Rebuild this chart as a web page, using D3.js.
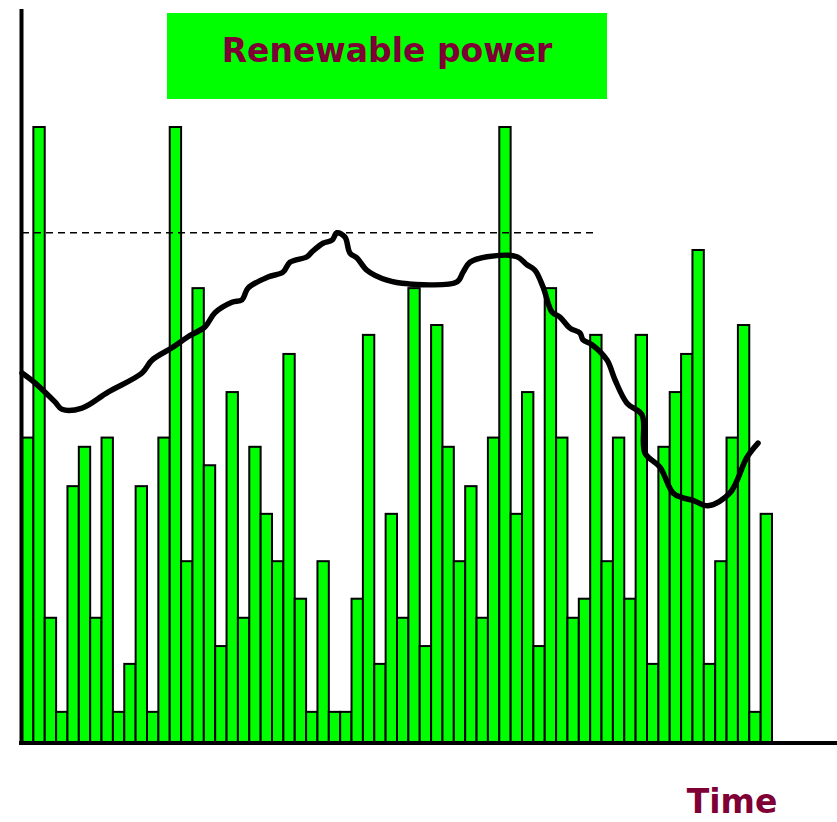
<!DOCTYPE html>
<html lang="en">
<head>
<meta charset="UTF-8">
<title>Renewable power</title>
<script src="https://d3js.org/d3.v7.min.js"></script>
<style>
  body { margin: 0; background: white; }
  svg text { font-family: "DejaVu Sans", Verdana, sans-serif; font-weight: bold; }
</style>
</head>
<body>
<div id="svg_area"></div>
<script>
// output of renewable power per time step (tallest bar = 100)
const barValues = [49.5, 100, 20.2, 4.9, 41.6, 48, 20.2, 49.5, 4.9, 12.7,
                   41.6, 4.9, 49.5, 100, 29.4, 73.8, 45, 15.6, 56.9, 20.2,
                   48, 37.1, 29.4, 63.1, 23.3, 4.9, 29.4, 4.9, 4.9, 23.3,
                   66.2, 12.7, 37.1, 20.2, 73.8, 15.6, 67.8, 48, 29.4, 41.6,
                   20.2, 49.5, 100, 37.1, 56.9, 15.6, 73.8, 49.5, 20.2, 23.3,
                   66.2, 29.4, 49.5, 23.3, 66.2, 12.7, 48, 56.9, 63.1, 80,
                   12.7, 29.4, 49.5, 67.8, 4.9, 37.1];

// demand curve, sampled at (time step, value)
const demandTime = [0, 1.14, 2.9, 3.52, 5.28, 7.57, 10.56, 11.44, 13.2, 14.61,
                    16.1, 16.98, 18.48, 19.36, 19.89, 21.65, 22.97, 23.58, 25.08, 25.52,
                    26.49, 27.28, 27.72, 28.42, 28.86, 29.48, 30.36, 32.12, 33.97, 38.28,
                    38.81, 39.42, 40.92, 43.56, 44.44, 45.14, 45.85, 46.64, 47.34, 48.22,
                    49.1, 49.37, 50.16, 51.48, 52.18, 53.24, 54.56, 54.82, 56.14, 57.29,
                    58.17, 59.05, 60.37, 62.3, 63.8, 64.77];
const demandValue = [60, 58.4, 55.3, 54.1, 54.3, 56.9, 60, 62.1, 64.1, 65.9,
                     67.5, 69.8, 71.5, 71.9, 73.8, 75.6, 76.4, 78, 78.9, 79.7,
                     81.1, 81.6, 82.8, 82.1, 79.5, 78.7, 76.7, 75.1, 74.5, 74.8,
                     76.4, 78, 78.9, 78.9, 77.6, 76.7, 74, 69.9, 69.1, 67.3,
                     66.5, 65.4, 64.6, 62.1, 58.9, 55.1, 53.2, 47, 44.7, 40.5,
                     39.7, 39.3, 38.4, 40.5, 46.3, 48.6];

const peakLevel = 82.8;
const peakEnd = 50.6;   // time step where the dashed line stops

const title = "Renewable power";
const xaxisname = "Time";

const width = 837, height = 822;
const baseY = 742;

var x = d3.scaleLinear().domain([0, barValues.length]).range([22, 772]);
var y = d3.scaleLinear().domain([0, 100]).range([baseY, 127]);

var svg = d3.select("#svg_area")
  .append("svg")
  .attr("width", width)
  .attr("height", height);

// bars
svg.append("g")
  .selectAll("rect")
  .data(barValues)
  .enter()
  .append("rect")
  .attr("x", (d, i) => x(i))
  .attr("y", d => y(d))
  .attr("width", x(1) - x(0))
  .attr("height", d => baseY - y(d))
  .attr("fill", "#00ff00")
  .attr("stroke", "black")
  .attr("stroke-width", 2);

// dashed peak line
svg.append("line")
  .attr("x1", x(0)).attr("x2", x(peakEnd))
  .attr("y1", y(peakLevel)).attr("y2", y(peakLevel))
  .attr("stroke", "black")
  .attr("stroke-width", 1.5)
  .attr("stroke-dasharray", "7,5");

// demand line
var line = d3.line()
  .x(d => x(d[0]))
  .y(d => y(d[1]))
  .curve(d3.curveCatmullRom);

svg.append("path")
  .datum(d3.zip(demandTime, demandValue))
  .attr("d", line)
  .attr("fill", "none")
  .attr("stroke", "black")
  .attr("stroke-width", 5.5)
  .attr("stroke-linejoin", "round")
  .attr("stroke-linecap", "round");

// axes (plain lines, no ticks)
svg.append("line")
  .attr("x1", 21.5).attr("x2", 21.5)
  .attr("y1", 9).attr("y2", baseY + 2)
  .attr("stroke", "black").attr("stroke-width", 4);

svg.append("line")
  .attr("x1", 19).attr("x2", width)
  .attr("y1", baseY + 1).attr("y2", baseY + 1)
  .attr("stroke", "black").attr("stroke-width", 4);

// title box
svg.append("rect")
  .attr("x", 167).attr("y", 13)
  .attr("width", 440).attr("height", 86)
  .attr("fill", "#00ff00");

svg.append("text")
  .attr("x", 387).attr("y", 62)
  .attr("text-anchor", "middle")
  .attr("fill", "#7f0035")
  .style("font-size", "33px")
  .text(title);

svg.append("text")
  .attr("x", 732).attr("y", 813)
  .attr("text-anchor", "middle")
  .attr("fill", "#7f0035")
  .style("font-size", "33px")
  .text(xaxisname);
</script>
</body>
</html>
